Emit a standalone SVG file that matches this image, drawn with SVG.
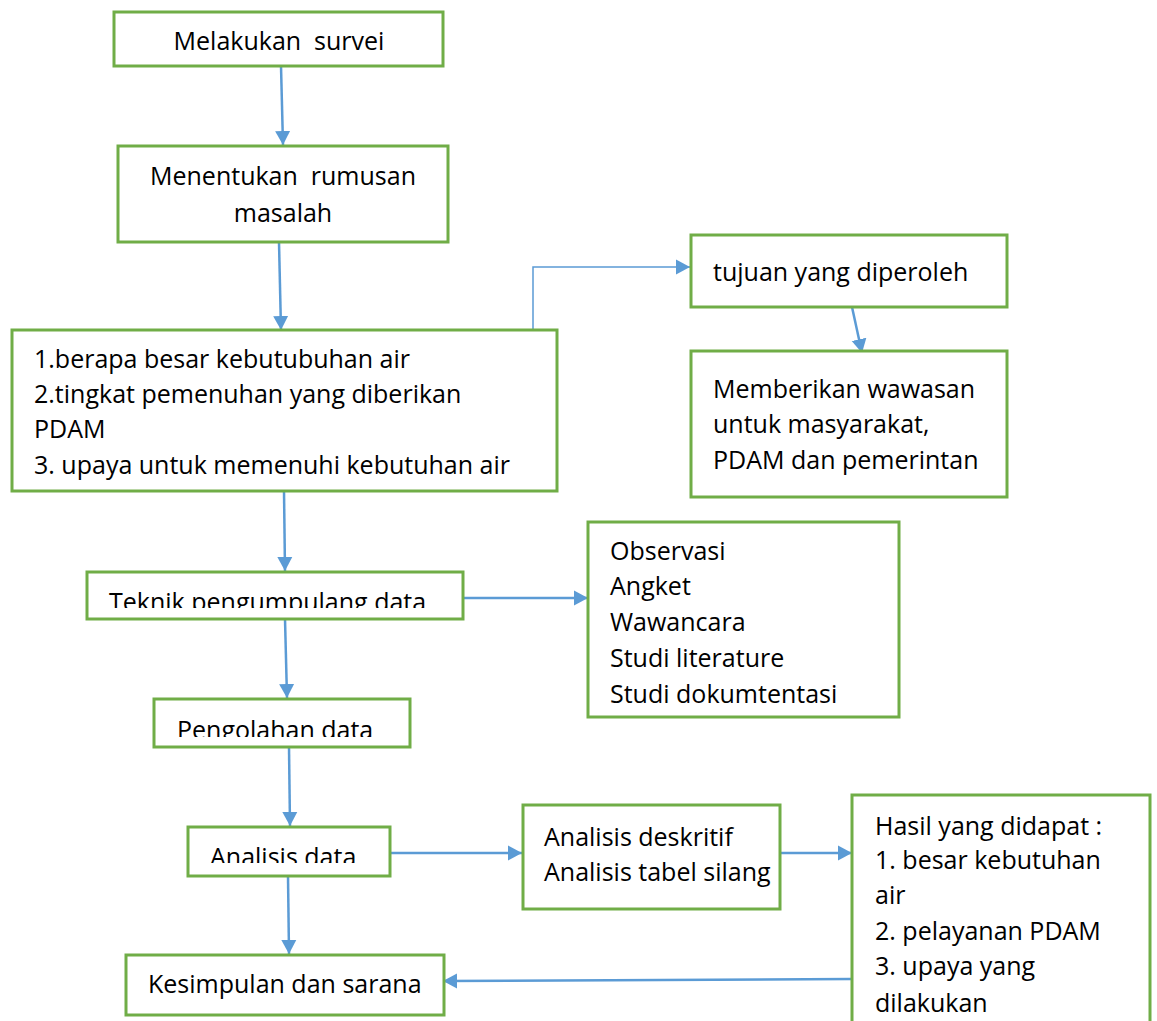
<svg xmlns="http://www.w3.org/2000/svg" width="1157" height="1021" viewBox="0 0 1157 1021">
<style>
.box{fill:#fff;stroke:#70AD47;stroke-width:3}
.t{font-family:"Open Sans","Noto Sans",sans-serif;font-size:25px;fill:#000}
.c{fill:none;stroke:#5B9BD5;stroke-width:2.5}
.thin{fill:none;stroke:#5B9BD5;stroke-width:1.5}
</style>
<defs>
<marker id="ah" markerUnits="userSpaceOnUse" markerWidth="15" markerHeight="16" refX="14" refY="8" orient="auto" viewBox="0 0 15 16">
<path d="M0,0.5 L14,8 L0,15.5 z" fill="#5B9BD5"/>
</marker>
<clipPath id="cp6"><rect x="87" y="560" width="376" height="48"/></clipPath>
<clipPath id="cp8"><rect x="154" y="690" width="256" height="47"/></clipPath>
<clipPath id="cp9"><rect x="188" y="815" width="202" height="48"/></clipPath>
</defs>
<rect width="1157" height="1021" fill="#fff"/>
<g id="connectors">
<path class="c" d="M281,66 L283,145" marker-end="url(#ah)"/>
<path class="c" d="M279,242 L281,330" marker-end="url(#ah)"/>
<path class="thin" d="M533,329 L533,267 L690,267" marker-end="url(#ah)"/>
<path class="c" d="M852,307 L862,353" marker-end="url(#ah)"/>
<path class="c" d="M284,491 L285,571" marker-end="url(#ah)"/>
<path class="c" d="M463,598 L588,598" marker-end="url(#ah)"/>
<path class="c" d="M285,619 L287,698" marker-end="url(#ah)"/>
<path class="c" d="M289,747 L290,826" marker-end="url(#ah)"/>
<path class="c" d="M390,853 L522,853" marker-end="url(#ah)"/>
<path class="c" d="M780,853 L852,853" marker-end="url(#ah)"/>
<path class="c" d="M288,876 L289,954" marker-end="url(#ah)"/>
<path class="c" d="M852,979 L443,981" marker-end="url(#ah)"/>
</g>
<g id="n1">
<rect class="box" x="114" y="12" width="329" height="54"/>
<text class="t" x="279" y="50" text-anchor="middle" xml:space="preserve">Melakukan  survei</text>
</g>
<g id="n2">
<rect class="box" x="118" y="146" width="330" height="96"/>
<text class="t" x="283" y="185" text-anchor="middle" xml:space="preserve">Menentukan  rumusan</text>
<text class="t" x="283" y="222" text-anchor="middle">masalah</text>
</g>
<g id="n3">
<rect class="box" x="12" y="330" width="545" height="161"/>
<text class="t" x="34" y="368">1.berapa besar kebutubuhan air</text>
<text class="t" x="34" y="403">2.tingkat pemenuhan yang diberikan</text>
<text class="t" x="34" y="438">PDAM</text>
<text class="t" x="34" y="474">3. upaya untuk memenuhi kebutuhan air</text>
</g>
<g id="n4">
<rect class="box" x="691" y="235" width="316" height="72"/>
<text class="t" x="713" y="281">tujuan yang diperoleh</text>
</g>
<g id="n5">
<rect class="box" x="691" y="351" width="316" height="146"/>
<text class="t" x="713" y="398">Memberikan wawasan</text>
<text class="t" x="713" y="433">untuk masyarakat,</text>
<text class="t" x="713" y="469">PDAM dan pemerintan</text>
</g>
<g id="n6">
<rect class="box" x="87" y="572" width="376" height="47"/>
<text class="t" x="109" y="611" clip-path="url(#cp6)">Teknik pengumpulang data</text>
</g>
<g id="n7">
<rect class="box" x="588" y="522" width="311" height="195"/>
<text class="t" x="610" y="560">Observasi</text>
<text class="t" x="610" y="595">Angket</text>
<text class="t" x="610" y="631">Wawancara</text>
<text class="t" x="610" y="667">Studi literature</text>
<text class="t" x="610" y="703">Studi dokumtentasi</text>
</g>
<g id="n8">
<rect class="box" x="154" y="699" width="256" height="48"/>
<text class="t" x="177" y="739" clip-path="url(#cp8)">Pengolahan data</text>
</g>
<g id="n9">
<rect class="box" x="188" y="827" width="202" height="49"/>
<text class="t" x="210" y="866" clip-path="url(#cp9)">Analisis data</text>
</g>
<g id="n10">
<rect class="box" x="523" y="805" width="257" height="104"/>
<text class="t" x="544" y="846">Analisis deskritif</text>
<text class="t" x="544" y="881">Analisis tabel silang</text>
</g>
<g id="n11">
<rect class="box" x="852" y="795" width="298" height="240"/>
<text class="t" x="875" y="835">Hasil yang didapat :</text>
<text class="t" x="875" y="869">1. besar kebutuhan</text>
<text class="t" x="875" y="904">air</text>
<text class="t" x="875" y="940">2. pelayanan PDAM</text>
<text class="t" x="875" y="975">3. upaya yang</text>
<text class="t" x="875" y="1012">dilakukan</text>
</g>
<g id="n12">
<rect class="box" x="126" y="955" width="318" height="60"/>
<text class="t" x="148" y="993">Kesimpulan dan sarana</text>
</g>
</svg>
